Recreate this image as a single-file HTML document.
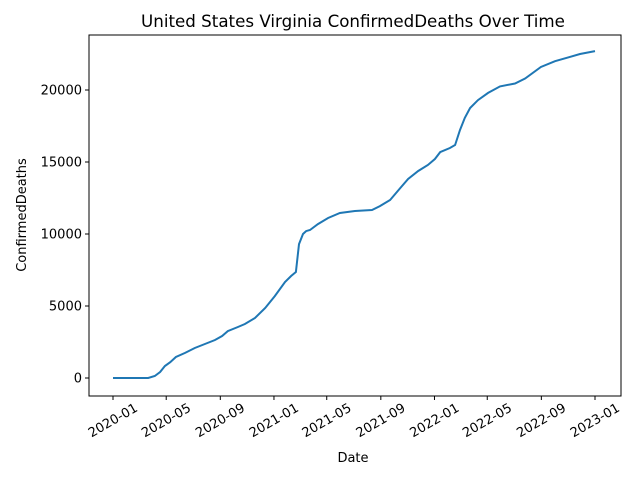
<!DOCTYPE html>
<html><head><meta charset="utf-8"><style>
body{margin:0;background:#fff;font-family:"DejaVu Sans","Liberation Sans",sans-serif}
</style></head><body>
<svg id="chart" width="640" height="480" style="display:block;font-family:'DejaVu Sans','Liberation Sans',sans-serif">
<rect width="640" height="480" fill="#fff"/>
<text x="353" y="27" text-anchor="middle" font-size="16.7">United States Virginia ConfirmedDeaths Over Time</text>
<rect x="89" y="35" width="532" height="361" fill="none" stroke="#000" stroke-width="1"/>
<g id="xt"></g><g id="yt"></g>
<path id="ln" fill="none" stroke="#1f77b4" stroke-width="2"/>
<text x="353" y="462" text-anchor="middle" font-size="13">Date</text>
<text transform="translate(26,215) rotate(-90)" text-anchor="middle" font-size="13">ConfirmedDeaths</text>
</svg>
<script>
const dayOffsets=[0,80,95,107,118,130,143,164,186,209,232,248,261,284,300,323,346,368,391,405,416,423,432,439,448,466,489,516,550,589,607,630,653,671,694,716,732,744,766,778,789,800,812,830,853,880,914,937,973,1005,1039,1062,1096];
const deaths=[0,0,140,420,830,1100,1460,1740,2080,2360,2640,2920,3260,3540,3750,4170,4860,5690,6670,7080,7360,9300,10000,10200,10280,10690,11110,11460,11600,11670,11940,12360,13190,13820,14375,14790,15210,15690,15970,16180,17220,18060,18750,19300,19800,20250,20450,20800,21600,22000,22300,22500,22700];
const xTickLabels=["2020-01","2020-05","2020-09","2021-01","2021-05","2021-09","2022-01","2022-05","2022-09","2023-01"];
const xTickDays=[0,121,244,366,486,609,731,851,974,1096];
const yTicks=[0,5000,10000,15000,20000];
const X=d=>113+d*(482/1096);
const Y=v=>378-v*(72/5000);
const ns="http://www.w3.org/2000/svg";
const xt=document.getElementById('xt'),yt=document.getElementById('yt');
xTickDays.forEach((d,i)=>{
 const x=X(d);
 const l=document.createElementNS(ns,'line');
 l.setAttribute('x1',x);l.setAttribute('x2',x);l.setAttribute('y1',396);l.setAttribute('y2',400);l.setAttribute('stroke','#000');
 
 
 xt.appendChild(l);
 const t=document.createElementNS(ns,'text');
 t.setAttribute('transform',`translate(${x+2},${424}) rotate(-30)`);
 t.setAttribute('text-anchor','middle');t.setAttribute('font-size','13');
 t.textContent=xTickLabels[i];
 
 
 xt.appendChild(t);
});
yTicks.forEach(v=>{
 const y=Y(v);
 const l=document.createElementNS(ns,'line');
 l.setAttribute('x1',85);l.setAttribute('x2',89);l.setAttribute('y1',y);l.setAttribute('y2',y);l.setAttribute('stroke','#000');
 
 
 yt.appendChild(l);
 const t=document.createElementNS(ns,'text');
 t.setAttribute('x',82);t.setAttribute('y',y+4.5);t.setAttribute('text-anchor','end');t.setAttribute('font-size','13');
 t.textContent=v;
 
 
 yt.appendChild(t);
});
document.getElementById('ln').setAttribute('d',dayOffsets.map((d,i)=>(i?'L':'M')+X(d).toFixed(1)+','+Y(deaths[i]).toFixed(1)).join(''));
</script>
</body></html>
